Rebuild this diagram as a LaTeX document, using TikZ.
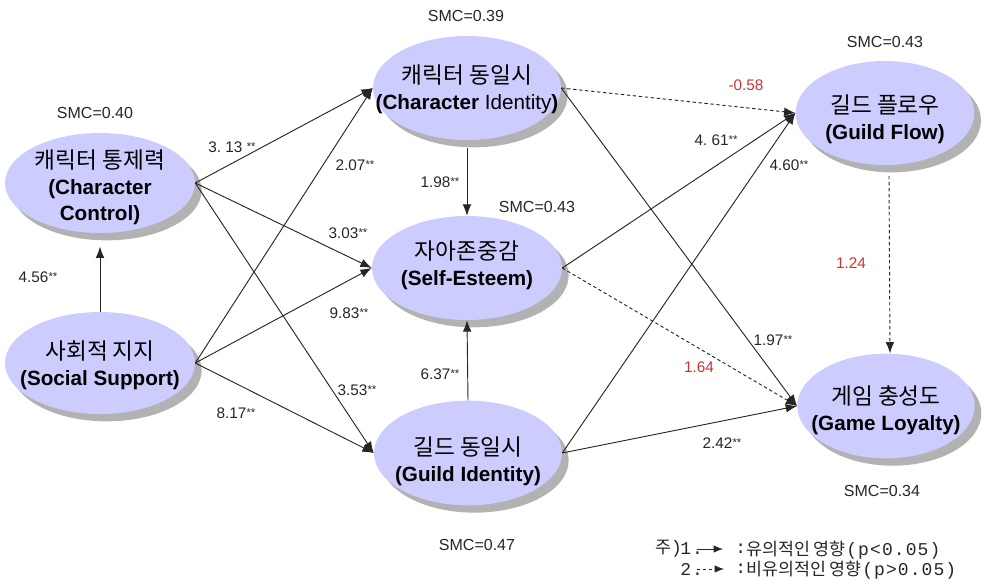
\documentclass[tikz,border=0pt]{standalone}
\usepackage{fontspec}
\setmainfont{Liberation Sans}
\newfontfamily\korean{Noto Sans CJK KR}
\newfontfamily\latmono{Liberation Mono}
\usetikzlibrary{shapes.geometric,arrows.meta,shadows}
\definecolor{nodefill}{RGB}{204,204,255}
\definecolor{redlab}{RGB}{204,51,51}
\definecolor{shadowgray}{RGB}{178,178,178}
\newcommand\sig{\raisebox{1.2pt}{\fontsize{8.5}{9}\selectfont **}}
\newcommand\kt[1]{{\korean\fontsize{17}{19.5}\selectfont #1}}
\newcommand\legk[1]{{\korean\fontsize{13}{14}\selectfont #1}}
\newcommand\legl[1]{{\latmono\fontsize{13.5}{15}\selectfont\addfontfeature{LetterSpace=6}#1}}
\begin{document}
\begin{tikzpicture}[x=0.75pt,y=-0.75pt,
  latent/.style={ellipse, fill=nodefill, draw=none, inner sep=0pt,
    drop shadow={shadow xshift=5pt, shadow yshift=-5.5pt, fill=shadowgray, opacity=1}},
  lattext/.style={align=center, inner sep=0pt, font=\fontsize{15.5}{19.5}\selectfont},
  num/.style={font=\fontsize{11.5}{13}\selectfont, inner sep=1pt, text=black!85},
  rednum/.style={num, text=redlab},
  smc/.style={font=\fontsize{12}{14}\selectfont, inner sep=1pt, text=black!85},
  path/.style={draw=black!85, line width=0.7pt, -{Latex[length=8.5pt,width=6.5pt]}},
  nspath/.style={path, dash pattern=on 2.5pt off 2pt},
  legend/.style={inner sep=0pt, anchor=west, text=black!85}]
\useasboundingbox (0,0) rectangle (990,583);

% latent variables
\node[latent, minimum width=142.5pt, minimum height=75pt,
  label={[lattext, name=CCt, yshift=-3.5pt]center:{\kt{캐릭터 통제력}\\ \textbf{(Character}\\ \textbf{Control)}}}] (CC) at (100,183) {};
\node[latent, minimum width=142.5pt, minimum height=76.5pt,
  label={[lattext, name=SSt, yshift=-1.5pt]center:{\kt{사회적 지지}\\ \textbf{(Social Support)}}}] (SS) at (100,363) {};
\node[latent, minimum width=141pt, minimum height=78pt,
  label={[lattext, name=CIt, yshift=-1pt]center:{\kt{캐릭터 동일시}\\ \textbf{(Character} Identity\textbf{)}}}] (CI) at (467,88) {};
\node[latent, minimum width=142.5pt, minimum height=78pt,
  label={[lattext, name=SEt, yshift=2pt]center:{\kt{자아존중감}\\ \textbf{(Self-Esteem)}}}] (SE) at (467,268) {};
\node[latent, minimum width=141pt, minimum height=78.5pt,
  label={[lattext, name=GIt, yshift=-6pt]center:{\kt{길드 동일시}\\ \textbf{(Guild Identity)}}}] (GI) at (468,453) {};
\node[latent, minimum width=134pt, minimum height=78pt,
  label={[lattext, name=GFt, yshift=-5pt]center:{\kt{길드 플로우}\\ \textbf{(Guild Flow)}}}] (GF) at (885,113) {};
\node[latent, minimum width=133pt, minimum height=78.5pt,
  label={[lattext, name=GLt, yshift=-3pt]center:{\kt{게임 충성도}\\ \textbf{(Game Loyalty)}}}] (GL) at (886,406) {};

% SMC labels
\node[smc] (smcCC) at (95,113) {SMC=0.40};
\node[smc] (smcCI) at (466,16) {SMC=0.39};
\node[smc] (smcSE) at (537,207) {SMC=0.43};
\node[smc] (smcGF) at (885,42) {SMC=0.43};
\node[smc] (smcGL) at (882,491) {SMC=0.34};
\node[smc] (smcGI) at (477,545) {SMC=0.47};

% paths
\draw[path] (SS.north) -- ([yshift=-10]CC.south);
\draw[path] (CC.east) -- (CI.west);
\draw[path] (CC.east) -- (SE.west);
\draw[path] (CC.east) -- (GI.west);
\draw[path] (SS.east) -- (CI.west);
\draw[path] (SS.east) -- (SE.west);
\draw[path] (SS.east) -- (GI.west);
\draw[path] ([yshift=-6]CI.south) -- (SE.north);
\draw[path] (GI.north) -- (SE.south);
\draw[nspath] (CI.east) -- (GF.west);
\draw[path] (CI.east) -- (GL.west);
\draw[path] (SE.east) -- (GF.west);
\draw[nspath] (SE.east) -- (GL.west);
\draw[path] (GI.east) -- (GF.west);
\draw[path] (GI.east) -- (GL.west);
\draw[nspath] ([xshift=3,yshift=-8]GF.south) -- ([xshift=3]GL.north);

% path coefficients
\node[num] (l1) at (232,147) {3.\ 13 \sig};
\node[num] (l2) at (355,165) {2.07\sig};
\node[num] (l3) at (348,233) {3.03\sig};
\node[num] (l4) at (38,277) {4.56\sig};
\node[num] (l5) at (349,313) {9.83\sig};
\node[num] (l6) at (357,390) {3.53\sig};
\node[num] (l7) at (236,413) {8.17\sig};
\node[num] (l8) at (440,182) {1.98\sig};
\node[num] (l9) at (440,374) {6.37\sig};
\node[rednum] (l10) at (746,85) {-0.58};
\node[num] (l11) at (716,140) {4.\ 61\sig};
\node[num] (l12) at (789,165) {4.60\sig};
\node[rednum] (l13) at (851,263) {1.24};
\node[num] (l14) at (773,340) {1.97\sig};
\node[rednum] (l15) at (699,367) {1.64};
\node[num] (l16) at (722,443) {2.42\sig};

% legend
\node[legend] (n0) at (655,549) {\legk{주}\legl{)}};
\node[legend] (n1) at (680,549) {\legl{1.}};
\coordinate (a1s) at (697,549);
\coordinate (a1e) at (723,549);
\draw[path, line width=0.6pt, -{Latex[length=7pt,width=5.5pt]}] (a1s) -- (a1e);
\node[legend] (k1c) at (735,549) {\legl{:}};
\node[legend] (k1) at (746,549) {\legk{유의적인 영향}};
\node[legend, anchor=base west] (k1l) at (k1.base east) {\legl{(p<0.05)}};
\node[legend] (n2) at (680,569) {\legl{2.}};
\coordinate (a2s) at (697,569);
\coordinate (a2e) at (724,569);
\draw[nspath, line width=0.6pt, -{Latex[length=7pt,width=5.5pt]}] (a2s) -- (a2e);
\node[legend] (k2c) at (735,569) {\legl{:}};
\node[legend] (k2) at (746,569) {\legk{비유의적인 영향}};
\node[legend, anchor=base west] (k2l) at (k2.base east) {\legl{(p>0.05)}};
\end{tikzpicture}
\end{document}
